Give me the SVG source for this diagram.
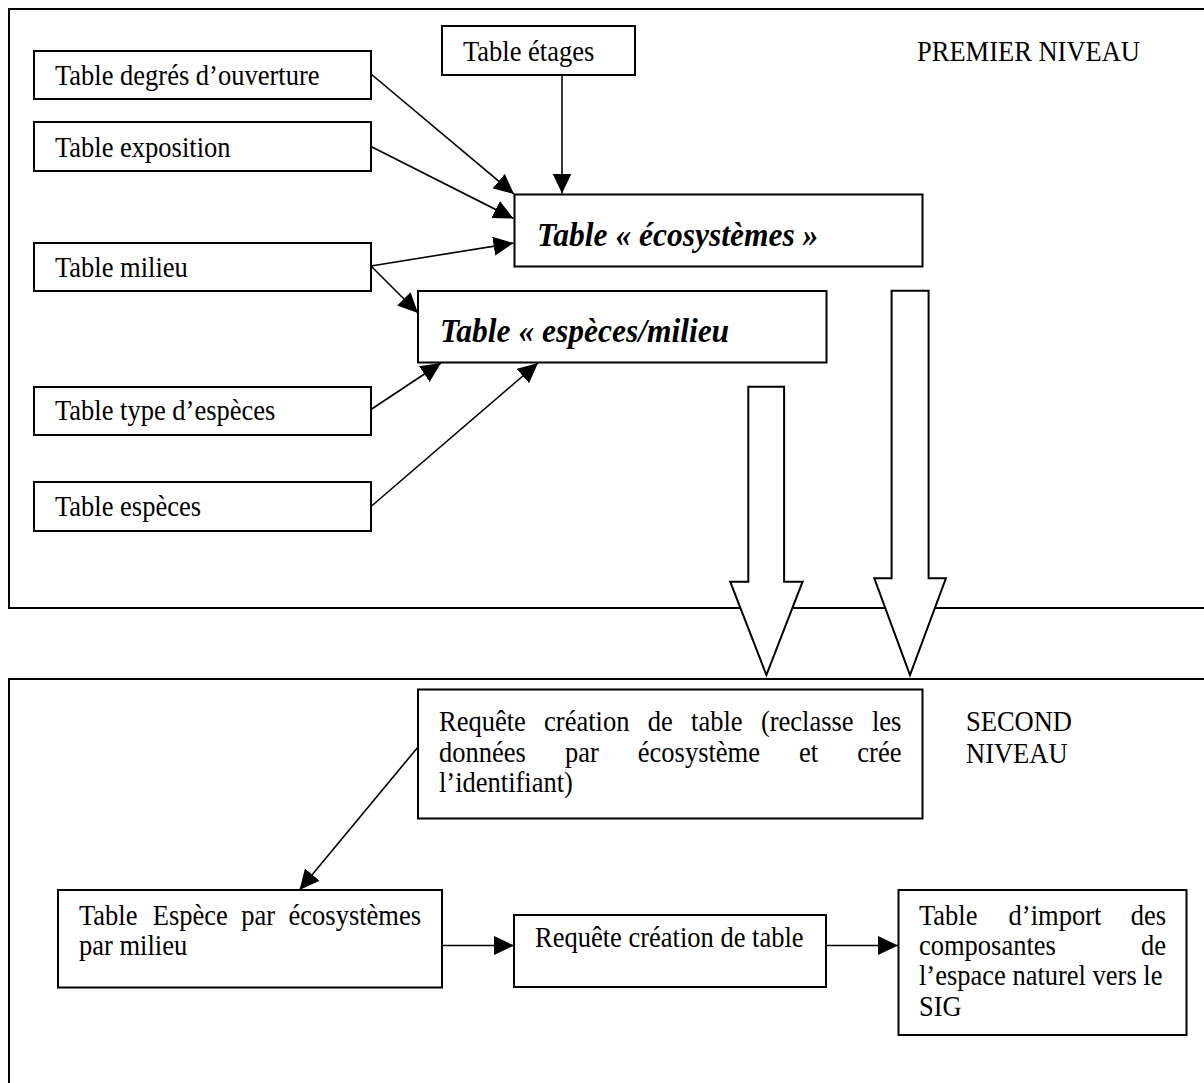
<svg xmlns="http://www.w3.org/2000/svg" width="1204" height="1083" viewBox="0 0 1204 1083">
<style>
.box{fill:#fff;stroke:#000;stroke-width:2}
.frame{fill:none;stroke:#000;stroke-width:2}
.t{font-family:"Liberation Serif","Times New Roman",serif;font-size:26.5px;fill:#000}
.bi{font-family:"Liberation Serif","Times New Roman",serif;font-size:31.5px;font-weight:bold;font-style:italic;fill:#000}
.c{fill:none;stroke:#000;stroke-width:1.6;marker-end:url(#ah)}
.big{fill:#fff;stroke:#000;stroke-width:2}
</style>
<defs>
<marker id="ah" markerUnits="userSpaceOnUse" markerWidth="21" markerHeight="19" refX="20" refY="9.5" orient="auto">
<path d="M0,0 L20,9.5 L0,19 z" fill="#000"/>
</marker>
</defs>
<rect width="1204" height="1083" fill="#fff"/>
<g id="frames">
<path class="frame" d="M1210,9 H9 V608 H1210"/>
<path class="frame" d="M1210,679 H9 V1095"/>
</g>
<g id="n-degres"><rect class="box" x="34" y="51" width="337" height="48"/><text class="t" x="55" y="85" transform="matrix(1 0 0 1.08 0 -6.8)">Table degrés d’ouverture</text></g>
<g id="n-exposition"><rect class="box" x="34" y="122" width="337" height="49"/><text class="t" x="55" y="157" transform="matrix(1 0 0 1.08 0 -12.56)">Table exposition</text></g>
<g id="n-milieu"><rect class="box" x="34" y="243" width="337" height="48"/><text class="t" x="55" y="277" transform="matrix(1 0 0 1.08 0 -22.16)">Table milieu</text></g>
<g id="n-type"><rect class="box" x="34" y="387" width="337" height="48"/><text class="t" x="55" y="420" transform="matrix(1 0 0 1.08 0 -33.6)">Table type d’espèces</text></g>
<g id="n-especes"><rect class="box" x="34" y="482" width="337" height="49"/><text class="t" x="55" y="516" transform="matrix(1 0 0 1.08 0 -41.28)">Table espèces</text></g>
<g id="n-etages"><rect class="box" x="442" y="26" width="193" height="49"/><text class="t" x="463" y="61" transform="matrix(1 0 0 1.08 0 -4.88)">Table étages</text></g>
<g id="n-eco"><rect class="box" x="514.5" y="194.5" width="408" height="72"/><text class="bi" x="537" y="246" transform="matrix(1 0 0 1.05 0 -12.3)">Table « écosystèmes »</text></g>
<g id="n-espmil"><rect class="box" x="418" y="291" width="408.5" height="71.5"/><text class="bi" x="440" y="342" transform="matrix(1 0 0 1.05 0 -17.1)">Table « espèces/milieu</text></g>
<g id="lbl-premier"><text class="t" x="917" y="61" transform="matrix(1 0 0 1.08 0 -4.88)">PREMIER NIVEAU</text></g>
<g id="lbl-second"><text class="t" x="966" y="731" transform="matrix(1 0 0 1.08 0 -58.48)">SECOND</text><text class="t" x="966" y="763" transform="matrix(1 0 0 1.08 0 -61.04)">NIVEAU</text></g>
<g id="n-req1"><rect class="box" x="418" y="689.5" width="504.5" height="129"/>
<text class="t" y="731" transform="matrix(1 0 0 1.08 0 -58.48)"><tspan x="439">Requête</tspan><tspan x="544.1">création</tspan><tspan x="647.8">de</tspan><tspan x="691.1">table</tspan><tspan x="760.9">(reclasse</tspan><tspan x="872">les</tspan></text>
<text class="t" y="762" transform="matrix(1 0 0 1.08 0 -60.96)"><tspan x="439">données</tspan><tspan x="564.9">par</tspan><tspan x="637.8">écosystème</tspan><tspan x="799.1">et</tspan><tspan x="857.3">crée</tspan></text>
<text class="t" x="439" y="792" transform="matrix(1 0 0 1.08 0 -63.36)">l’identifiant)</text></g>
<g id="n-tabesp"><rect class="box" x="58" y="890" width="384" height="97.5"/>
<text class="t" y="925" transform="matrix(1 0 0 1.08 0 -74)"><tspan x="79">Table</tspan><tspan x="152.8">Espèce</tspan><tspan x="241.3">par</tspan><tspan x="288.6">écosystèmes</tspan></text>
<text class="t" x="79" y="955" transform="matrix(1 0 0 1.08 0 -76.4)">par milieu</text></g>
<g id="n-req2"><rect class="box" x="514" y="915" width="312" height="72"/><text class="t" x="535" y="947" transform="matrix(1 0 0 1.08 0 -75.76)">Requête création de table</text></g>
<g id="n-import"><rect class="box" x="898.5" y="890" width="288" height="145"/>
<text class="t" y="925" transform="matrix(1 0 0 1.08 0 -74)"><tspan x="919">Table</tspan><tspan x="1008.6">d’import</tspan><tspan x="1130.7">des</tspan></text>
<text class="t" y="955" transform="matrix(1 0 0 1.08 0 -76.4)"><tspan x="919">composantes</tspan><tspan x="1141">de</tspan></text>
<text class="t" x="919" y="985" transform="matrix(1 0 0 1.08 0 -78.8)">l’espace naturel vers le</text>
<text class="t" x="919" y="1016" transform="matrix(1 0 0 1.08 0 -81.28)">SIG</text></g>
<g id="connectors">
<line class="c" x1="562" y1="75" x2="562" y2="193.5"/>
<line class="c" x1="371" y1="74" x2="514" y2="194"/>
<line class="c" x1="371" y1="146.5" x2="513.5" y2="218.5"/>
<line class="c" x1="371" y1="266" x2="513.5" y2="243"/>
<line class="c" x1="371" y1="266" x2="418" y2="313"/>
<line class="c" x1="371" y1="409.5" x2="441" y2="363"/>
<line class="c" x1="371" y1="506.5" x2="538" y2="363"/>
<line class="c" x1="418" y1="747" x2="299.5" y2="890"/>
<line class="c" x1="442" y1="945.5" x2="514" y2="945.5"/>
<line class="c" x1="826" y1="945.5" x2="898" y2="945.5"/>
<polygon class="big" points="748.3,386.7 784.1,386.7 784.1,581.7 802.6,581.7 766.4,675 730.2,581.7 748.3,581.7"/>
<polygon class="big" points="891.6,290.7 928.6,290.7 928.6,578.3 945.9,578.3 910,675 874.3,578.3 891.6,578.3"/>
</g>
</svg>
